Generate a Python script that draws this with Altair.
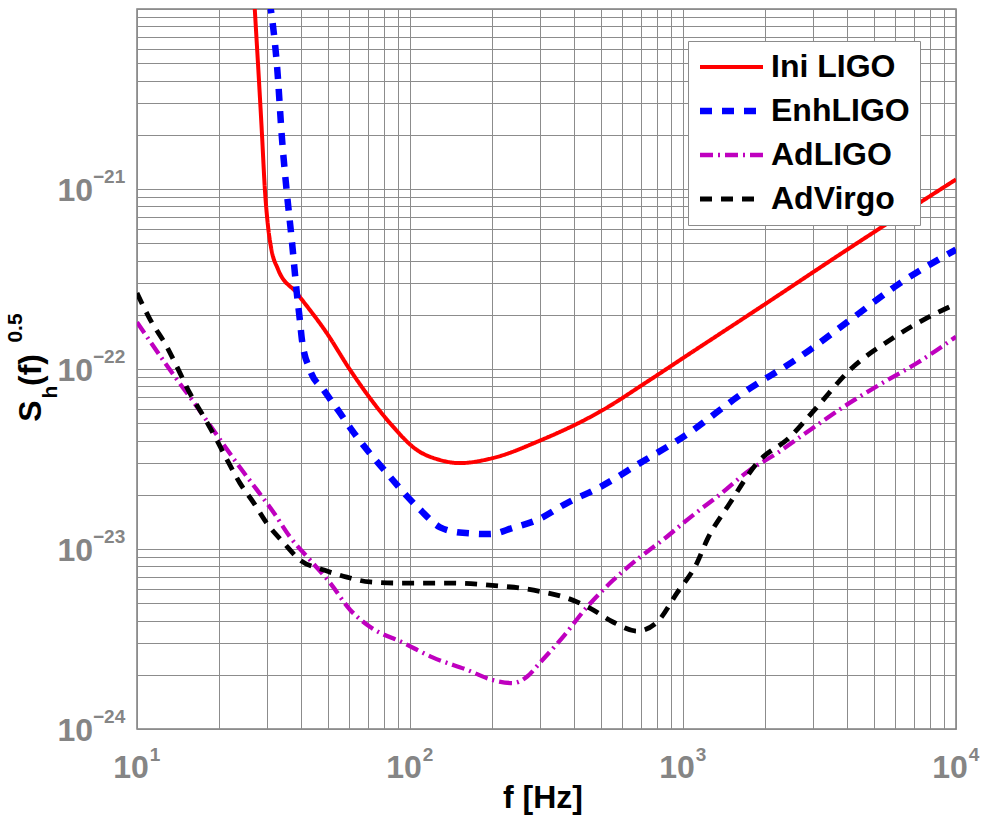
import altair as alt
import pandas as pd

# ---------------- data ----------------
detectors = ["Ini LIGO", "EnhLIGO", "AdLIGO", "AdVirgo"]

f_ini = [26.9, 28.7, 29.4, 30.2, 31.0, 32.8, 38.5, 49.6, 60.3, 71.3, 84.5, 106, 129, 152,
         201, 299, 497, 757, 1000, 2030, 3990, 10000]
s_ini = [1.1e-20, 2.0e-21, 1.0e-21, 6.2e-22, 4.7e-22, 3.6e-22, 2.64e-22, 1.58e-22, 9.9e-23,
         6.9e-23, 5.0e-23, 3.55e-23, 3.12e-23, 3.0e-23, 3.2e-23, 4.0e-23, 5.8e-23, 8.7e-23,
         1.15e-22, 2.33e-22, 4.6e-22, 1.13e-21]

f_enh = [30.6, 31.2, 32.6, 34.0, 35.4, 36.9, 38.5, 39.5, 40.2, 43.0, 48.4, 55.4, 62.4, 71.3,
         82.3, 95.0, 109, 129, 156, 196, 238, 292, 376, 497, 695, 1000, 1660, 2685, 4090,
         6240, 10000]
s_enh = [1.1e-20, 9.0e-21, 4.76e-21, 1.87e-21, 9.5e-22, 5.2e-22, 2.64e-22, 1.87e-22, 1.45e-22,
         9.9e-23, 7.6e-23, 5.7e-23, 4.4e-23, 3.4e-23, 2.64e-23, 2.05e-23, 1.65e-23, 1.32e-23,
         1.23e-23, 1.21e-23, 1.31e-23, 1.45e-23, 1.80e-23, 2.21e-23, 3.0e-23, 4.19e-23,
         7.36e-23, 1.17e-22, 1.87e-22, 3.0e-22, 4.6e-22]

f_adl = [10, 13.2, 16.6, 20.2, 23.2, 27.5, 31.8, 36.3, 43.0, 50.9, 60.3, 71.3, 95, 121, 162,
         201, 238, 268, 299, 363, 445, 554, 695, 873, 1000, 1153, 1333, 1758, 2208, 2685,
         4090, 5405, 7200, 10000]
s_adl = [1.82e-22, 9.9e-23, 6.15e-23, 4.03e-23, 3.0e-23, 2.13e-23, 1.58e-23, 1.17e-23, 8.7e-24,
         6.5e-24, 4.6e-24, 3.7e-24, 3.0e-24, 2.5e-24, 2.13e-24, 1.87e-24, 1.80e-24, 1.95e-24,
         2.33e-24, 3.24e-24, 4.76e-24, 6.7e-24, 9.0e-24, 1.17e-23, 1.39e-23, 1.65e-23,
         1.95e-23, 2.75e-23, 3.4e-23, 4.19e-23, 6.5e-23, 8.4e-23, 1.08e-22, 1.51e-22]

f_adv = [10, 11.2, 12.9, 14.0, 15.6, 17.6, 19.6, 21.4, 23.8, 26.8, 29.9, 34.5, 39.5, 48.4,
         58.7, 71.3, 91.8, 140, 214, 253, 307, 376, 456, 554, 679, 804, 951, 1125, 1224,
         1486, 1866, 2465, 3097, 4090, 5730, 7570, 10000]
s_adv = [2.64e-22, 1.87e-22, 1.32e-22, 1.03e-22, 7.36e-23, 5.4e-23, 4.03e-23, 3.12e-23,
         2.33e-23, 1.80e-23, 1.39e-23, 1.08e-23, 8.7e-24, 7.64e-24, 6.98e-24, 6.56e-24,
         6.47e-24, 6.47e-24, 6.22e-24, 6.07e-24, 5.77e-24, 5.34e-24, 4.70e-24, 3.93e-24,
         3.50e-24, 3.93e-24, 5.70e-24, 8.36e-24, 1.12e-23, 1.80e-23, 3.0e-23, 4.19e-23,
         6.15e-23, 9.9e-23, 1.45e-22, 1.87e-22, 2.3e-22]

x_tick_vals = [10, 100, 1000, 10000]
x_tick_exp = ["1", "2", "3", "4"]
y_tick_vals = [1e-24, 1e-23, 1e-22, 1e-21]
y_tick_exp = ["\u221224", "\u221223", "\u221222", "\u221221"]

x_grid = [m * 10 ** k for k in range(1, 4) for m in range(1, 10)] + [10000]
y_grid = [m * 10.0 ** k for k in range(-24, -20) for m in range(1, 10)] + [1e-20]

colors = ["#ff0000", "#0000ff", "#bf00bf", "#000000"]
dashes = [[1, 0], [12, 10], [13, 5, 2, 5], [12, 9]]
widths = [4, 6.5, 4.3, 4.8]

# ---------------- build table ----------------
rows = []
for name, fs, ss in zip(detectors, [f_ini, f_enh, f_adl, f_adv], [s_ini, s_enh, s_adl, s_adv]):
    for i, (f, s) in enumerate(zip(fs, ss)):
        rows.append({"detector": name, "f": f, "S": s, "order": i})
df = pd.DataFrame(rows)

xt = pd.DataFrame({"v": x_tick_vals, "e": x_tick_exp})
yt = pd.DataFrame({"v": y_tick_vals, "e": y_tick_exp})

FONT = "Liberation Sans"
GRAY = "#858585"

xscale = alt.Scale(type="log", domain=[10, 10000], nice=False)
yscale = alt.Scale(type="log", domain=[1e-24, 1e-20], nice=False)
xaxis = alt.Axis(values=x_grid, grid=True, labels=False, ticks=False, domain=False, title=None)
yaxis = alt.Axis(values=y_grid, grid=True, labels=False, ticks=False, domain=False, title=None)

leg = alt.Legend(
    title=None, orient="none", legendX=551, legendY=32,
    symbolType="M-2.67,0H9.34", symbolSize=110, labelFont=FONT, labelFontSize=32,
    labelFontWeight="bold", labelColor="black", padding=10, rowPadding=12,
    strokeColor="#8c8c8c", fillColor="white", labelOffset=41, labelLimit=400,
    symbolFillColor="transparent",
)

lines = alt.Chart(df).mark_line(clip=True, interpolate="monotone").encode(
    x=alt.X("f:Q", scale=xscale, axis=xaxis),
    y=alt.Y("S:Q", scale=yscale, axis=yaxis),
    color=alt.Color("detector:N", scale=alt.Scale(domain=detectors, range=colors), legend=leg),
    strokeDash=alt.StrokeDash("detector:N", scale=alt.Scale(domain=detectors, range=dashes), legend=leg),
    strokeWidth=alt.StrokeWidth("detector:N",
                                scale=alt.Scale(type="ordinal", domain=detectors, range=widths),
                                legend=leg),
    order="order:Q",
)

# tick labels
xlab10 = alt.Chart(xt).mark_text(font=FONT, fontSize=32, fontWeight="bold", color=GRAY,
                                 align="center", baseline="middle", dx=-6).encode(
    x=alt.X("v:Q", scale=xscale, axis=xaxis), y=alt.value(759), text=alt.value("10"))
xlabe = alt.Chart(xt).mark_text(font=FONT, fontSize=19, fontWeight="bold", color=GRAY,
                                align="center", baseline="middle", dx=18).encode(
    x=alt.X("v:Q", scale=xscale, axis=xaxis), y=alt.value(746), text="e:N")
ylab10 = alt.Chart(yt).mark_text(font=FONT, fontSize=32, fontWeight="bold", color=GRAY,
                                 align="right", baseline="middle", dy=2).encode(
    y=alt.Y("v:Q", scale=yscale, axis=yaxis), x=alt.value(-44), text=alt.value("10"))
ylabe = alt.Chart(yt).mark_text(font=FONT, fontSize=19, fontWeight="bold", color=GRAY,
                                align="left", baseline="middle", dy=-12).encode(
    y=alt.Y("v:Q", scale=yscale, axis=yaxis), x=alt.value(-44), text="e:N")

# axis titles
title_df = pd.DataFrame({"t": ["f [Hz]"]})
xtitle = alt.Chart(title_df).mark_text(font=FONT, fontSize=32, fontWeight="bold", color="black",
                                       align="center", baseline="middle").encode(
    x=alt.value(406), y=alt.value(789), text="t:N")

ytitle_parts = pd.DataFrame({
    "t": ["S", "h", "(f)", "0.5"],
    "px": [-106, -86, -106, -121],
    "py": [402, 383, 361, 319],
    "fs": [32, 21, 32, 21],
})
ytitle = alt.Chart(ytitle_parts).mark_text(font=FONT, fontWeight="bold", color="black",
                                           align="center", baseline="middle", angle=270).encode(
    x=alt.X("px:Q", scale=None, axis=None), y=alt.Y("py:Q", scale=None, axis=None),
    text="t:N", size=alt.Size("fs:Q", scale=None, legend=None))

chart = alt.layer(lines, xlab10, xlabe, ylab10, ylabe, xtitle, ytitle).properties(
    width=819, height=720,
    padding={"left": 137, "top": 9, "right": 25, "bottom": 87},
    autosize=alt.AutoSizeParams(type="none"),
    background="white",
).configure_view(stroke="#7f7f7f", strokeWidth=1.5).configure_axis(
    gridColor="#8c8c8c", gridOpacity=1, gridWidth=1
)

chart.save("out.html", embed_options={"renderer": "svg", "actions": False})
